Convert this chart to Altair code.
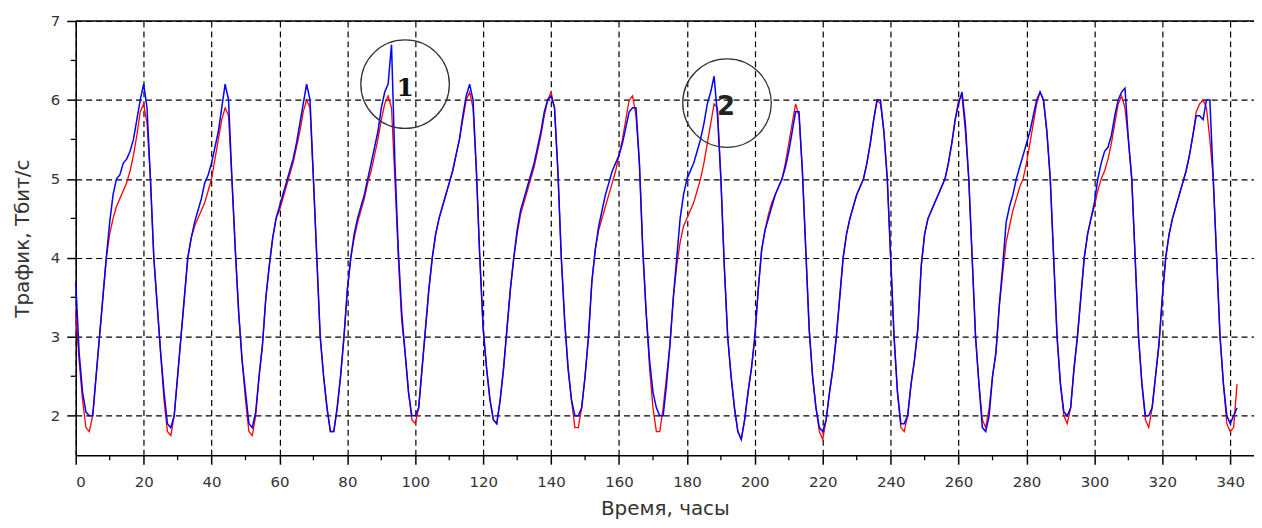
import altair as alt
import pandas as pd

# ---- data: hourly traffic, Tbit/s (red = model, blue = measured) ----
red_d0 = [3.3, 2.7, 2.2, 1.85, 1.8, 2.0, 2.5, 3.0, 3.5, 4.0, 4.3, 4.5, 4.65, 4.75, 4.85, 4.95, 5.1, 5.3, 5.55, 5.85, 5.95, 5.7, 5.0, 4.0]
red_d1 = [3.4, 2.8, 2.2, 1.8, 1.75, 2.0, 2.5, 3.0, 3.5, 4.0, 4.25, 4.4, 4.5, 4.6, 4.7, 4.85, 5.0, 5.25, 5.5, 5.75, 5.9, 5.8, 5.0, 4.1]
red_d2 = [3.3, 2.7, 2.2, 1.8, 1.75, 2.0, 2.5, 2.9, 3.5, 3.9, 4.25, 4.5, 4.6, 4.75, 4.9, 5.05, 5.2, 5.4, 5.6, 5.85, 6.0, 5.9, 5.0, 4.0]
red_d3 = [3.0, 2.5, 2.1, 1.8, 1.8, 2.1, 2.5, 3.0, 3.6, 4.0, 4.25, 4.45, 4.6, 4.75, 4.95, 5.1, 5.3, 5.5, 5.75, 5.95, 6.05, 5.9, 5.0, 4.0]
red_d4 = [3.2, 2.8, 2.3, 1.95, 1.9, 2.1, 2.6, 3.1, 3.6, 4.0, 4.3, 4.5, 4.65, 4.8, 4.95, 5.1, 5.3, 5.5, 5.75, 6.0, 6.1, 5.9, 5.1, 4.0]
red_d5 = [3.1, 2.6, 2.2, 1.95, 1.9, 2.2, 2.6, 3.1, 3.6, 4.0, 4.3, 4.55, 4.7, 4.85, 5.0, 5.15, 5.35, 5.55, 5.8, 6.0, 6.1, 5.9, 5.1, 4.0]
red_d6 = [3.2, 2.6, 2.2, 1.85, 1.85, 2.1, 2.5, 3.0, 3.7, 4.1, 4.35, 4.5, 4.65, 4.8, 4.95, 5.1, 5.3, 5.5, 5.75, 6.0, 6.05, 5.8, 5.2, 4.1]
red_d7 = [3.3, 2.6, 2.1, 1.8, 1.8, 2.1, 2.5, 2.9, 3.5, 3.9, 4.2, 4.4, 4.5, 4.6, 4.7, 4.85, 5.0, 5.2, 5.45, 5.7, 5.95, 5.9, 5.0, 3.9]
red_d8 = [3.0, 2.5, 2.1, 1.8, 1.7, 1.95, 2.3, 2.6, 3.0, 3.6, 4.1, 4.35, 4.55, 4.7, 4.8, 4.9, 5.0, 5.2, 5.45, 5.7, 5.95, 5.8, 5.1, 4.1]
red_d9 = [3.1, 2.5, 2.1, 1.8, 1.7, 1.95, 2.3, 2.6, 3.0, 3.5, 4.0, 4.3, 4.5, 4.65, 4.8, 4.9, 5.0, 5.2, 5.45, 5.75, 6.0, 5.95, 5.6, 5.0]
red_d10 = [4.0, 3.0, 2.3, 1.85, 1.8, 2.0, 2.4, 2.7, 3.1, 3.9, 4.3, 4.5, 4.6, 4.7, 4.8, 4.9, 5.0, 5.2, 5.45, 5.75, 6.0, 6.05, 5.6, 5.0]
red_d11 = [4.0, 3.0, 2.4, 1.95, 1.85, 2.1, 2.5, 2.8, 3.4, 3.8, 4.2, 4.4, 4.6, 4.75, 4.9, 5.0, 5.2, 5.45, 5.7, 5.95, 6.1, 6.0, 5.6, 5.0]
red_d12 = [4.0, 3.0, 2.4, 2.0, 1.9, 2.1, 2.6, 3.0, 3.5, 4.0, 4.3, 4.5, 4.65, 4.85, 5.0, 5.1, 5.25, 5.45, 5.7, 5.95, 6.05, 5.9, 5.5, 5.0]
red_d13 = [4.0, 3.0, 2.4, 1.95, 1.85, 2.1, 2.5, 2.9, 3.5, 4.0, 4.3, 4.5, 4.65, 4.8, 4.95, 5.1, 5.3, 5.55, 5.85, 5.95, 6.0, 5.9, 5.5, 5.0]
red_d14 = [4.0, 3.0, 2.4, 1.9, 1.8, 1.85, 2.4]

blue_d0 = [3.7, 2.8, 2.3, 2.05, 2.0, 2.0, 2.5, 3.0, 3.5, 4.0, 4.45, 4.8, 5.0, 5.05, 5.2, 5.25, 5.35, 5.5, 5.75, 6.0, 6.2, 5.9, 5.0, 4.0]
blue_d1 = [3.4, 2.8, 2.3, 1.9, 1.85, 2.0, 2.5, 3.0, 3.5, 4.0, 4.25, 4.45, 4.6, 4.75, 4.95, 5.05, 5.2, 5.4, 5.6, 5.9, 6.2, 6.0, 5.0, 4.1]
blue_d2 = [3.3, 2.7, 2.3, 1.9, 1.85, 2.05, 2.5, 2.9, 3.5, 3.9, 4.25, 4.5, 4.65, 4.8, 4.95, 5.1, 5.25, 5.45, 5.7, 5.95, 6.2, 6.0, 5.0, 4.0]
blue_d3 = [3.0, 2.5, 2.1, 1.8, 1.8, 2.1, 2.5, 3.0, 3.6, 4.0, 4.3, 4.5, 4.65, 4.8, 5.0, 5.2, 5.4, 5.6, 5.9, 6.1, 6.2, 6.7, 5.2, 4.1]
blue_d4 = [3.3, 2.8, 2.3, 2.0, 2.0, 2.1, 2.6, 3.1, 3.6, 4.0, 4.3, 4.5, 4.65, 4.8, 4.95, 5.1, 5.3, 5.5, 5.8, 6.05, 6.2, 6.0, 5.1, 4.0]
blue_d5 = [3.1, 2.6, 2.2, 1.95, 1.9, 2.2, 2.6, 3.1, 3.6, 4.0, 4.35, 4.6, 4.75, 4.9, 5.05, 5.2, 5.4, 5.6, 5.85, 6.0, 6.05, 5.9, 5.1, 4.0]
blue_d6 = [3.2, 2.6, 2.2, 2.0, 2.0, 2.1, 2.5, 3.0, 3.7, 4.1, 4.4, 4.6, 4.8, 4.95, 5.1, 5.2, 5.3, 5.45, 5.65, 5.85, 5.9, 5.9, 5.2, 4.1]
blue_d7 = [3.3, 2.7, 2.3, 2.1, 2.0, 2.0, 2.4, 2.9, 3.5, 4.0, 4.5, 4.8, 5.0, 5.1, 5.2, 5.35, 5.5, 5.7, 5.95, 6.1, 6.3, 5.8, 5.0, 3.9]
blue_d8 = [3.0, 2.5, 2.1, 1.8, 1.7, 1.95, 2.3, 2.6, 3.0, 3.6, 4.1, 4.35, 4.5, 4.65, 4.8, 4.9, 5.0, 5.15, 5.35, 5.6, 5.85, 5.85, 5.1, 4.1]
blue_d9 = [3.1, 2.5, 2.1, 1.85, 1.8, 1.95, 2.3, 2.6, 3.0, 3.5, 4.0, 4.3, 4.5, 4.65, 4.8, 4.9, 5.0, 5.2, 5.45, 5.75, 6.0, 6.0, 5.6, 5.0]
blue_d10 = [4.0, 3.0, 2.3, 1.9, 1.9, 2.0, 2.4, 2.7, 3.1, 3.9, 4.3, 4.5, 4.6, 4.7, 4.8, 4.9, 5.0, 5.2, 5.45, 5.75, 5.95, 6.1, 5.7, 5.0]
blue_d11 = [4.0, 3.0, 2.4, 1.85, 1.8, 2.0, 2.5, 2.8, 3.4, 3.9, 4.45, 4.65, 4.8, 5.0, 5.15, 5.3, 5.45, 5.6, 5.8, 6.0, 6.1, 6.0, 5.6, 5.0]
blue_d12 = [4.0, 3.0, 2.4, 2.05, 2.0, 2.1, 2.6, 3.0, 3.5, 4.0, 4.3, 4.5, 4.7, 5.0, 5.2, 5.35, 5.4, 5.55, 5.8, 6.0, 6.1, 6.15, 5.5, 5.0]
blue_d13 = [4.0, 3.0, 2.4, 2.0, 2.0, 2.1, 2.5, 2.9, 3.5, 4.0, 4.3, 4.5, 4.65, 4.8, 4.95, 5.1, 5.3, 5.55, 5.8, 5.8, 5.75, 6.0, 6.0, 5.0]
blue_d14 = [4.0, 3.0, 2.4, 2.0, 1.9, 2.0, 2.1]

red_days = [red_d0, red_d1, red_d2, red_d3, red_d4, red_d5, red_d6, red_d7,
            red_d8, red_d9, red_d10, red_d11, red_d12, red_d13, red_d14]
blue_days = [blue_d0, blue_d1, blue_d2, blue_d3, blue_d4, blue_d5, blue_d6, blue_d7,
             blue_d8, blue_d9, blue_d10, blue_d11, blue_d12, blue_d13, blue_d14]

red_vals = [v for d in red_days for v in d]
blue_vals = [v for d in blue_days for v in d]
hours = list(range(len(red_vals)))

x_major = [0, 20, 40, 60, 80, 100, 120, 140, 160, 180, 200, 220, 240, 260, 280, 300, 320, 340]
x_minor = [10, 30, 50, 70, 90, 110, 130, 150, 170, 190, 210, 230, 250, 270, 290, 310, 330]
y_major = [2, 3, 4, 5, 6, 7]
y_minor = [2.5, 3.5, 4.5, 5.5, 6.5]

annot_t = [97.0, 191.8]
annot_v = [6.2, 5.96]
annot_text = ["1", "2"]

# ---- chart ----
W, H = 1183, 436
xs = alt.Scale(domain=[0, 347], nice=False, zero=False)
ys = alt.Scale(domain=[1.5, 7], nice=False, zero=False)

X_TITLE = "Время, часы"
Y_TITLE = "Трафик, Тбит/с"

AX = dict(
    domainColor="black", domainWidth=1.5,
    tickColor="black", tickWidth=1.5, tickSize=9,
    grid=True, gridColor="black", gridDash=[6, 4], gridWidth=1.2, gridOpacity=1,
    labelFont="DejaVu Sans", labelFontSize=15, labelColor="#333333",
    titleFont="DejaVu Sans", titleFontSize=20, titleFontWeight="normal",
    titleColor="#333333", format="d",
)
xaxis = alt.Axis(values=x_major, title=X_TITLE, labelPadding=10, titlePadding=10, **AX)
yaxis = alt.Axis(values=y_major, title=Y_TITLE, labelPadding=7, titlePadding=18, **AX)

def X(field="t"):
    return alt.X(f"{field}:Q", scale=xs, axis=xaxis, title=X_TITLE)

def Y(field="v"):
    return alt.Y(f"{field}:Q", scale=ys, axis=yaxis, title=Y_TITLE)

red_df = pd.DataFrame({"t": hours, "v": red_vals})
blue_df = pd.DataFrame({"t": hours, "v": blue_vals})

red_line = alt.Chart(red_df).mark_line(
    color="#ff0000", strokeWidth=1.3
).encode(x=X(), y=Y())

blue_line = alt.Chart(blue_df).mark_line(
    color="#0000ff", strokeWidth=1.5
).encode(x=X(), y=Y())

xminor = alt.Chart(pd.DataFrame({"t": x_minor})).mark_rule(
    color="black", strokeWidth=1.3
).encode(x=X(), y=alt.value(H), y2=alt.value(H + 5))

yminor = alt.Chart(pd.DataFrame({"v": y_minor})).mark_rule(
    color="black", strokeWidth=1.3
).encode(y=Y(), x=alt.value(-5), x2=alt.value(0))

top_border = alt.Chart(pd.DataFrame({"k": [0]})).mark_rule(
    color="black", strokeWidth=1.5
).encode(x=alt.value(0), x2=alt.value(W), y=alt.value(0))

ann_df = pd.DataFrame({"t": annot_t, "v": annot_v, "label": annot_text})

circles = alt.Chart(ann_df).mark_point(
    shape="circle", size=7900, filled=False, color="#333333",
    strokeWidth=1.3, opacity=1
).encode(x=X(), y=Y())

label1 = alt.Chart(ann_df.iloc[[0]]).mark_text(
    font="DejaVu Serif", fontSize=25, fontWeight="bold", color="#111111",
    align="center", baseline="middle", dy=4
).encode(x=X(), y=Y(), text="label:N")

label2 = alt.Chart(ann_df.iloc[[1]]).mark_text(
    font="DejaVu Sans", fontSize=26, fontWeight="bold", color="#222222",
    align="center", baseline="middle", dx=-1, dy=4
).encode(x=X(), y=Y(), text="label:N")

chart = alt.layer(
    red_line, blue_line, xminor, yminor, top_border, circles, label1, label2
).properties(
    width=W, height=H,
    background="white",
    autosize=alt.AutoSizeParams(type="none"),
    padding={"left": 68, "top": 12, "right": 0, "bottom": 64},
).configure_view(
    stroke=None
)

chart.save("out.html", embed_options={"renderer": "svg", "actions": False})
